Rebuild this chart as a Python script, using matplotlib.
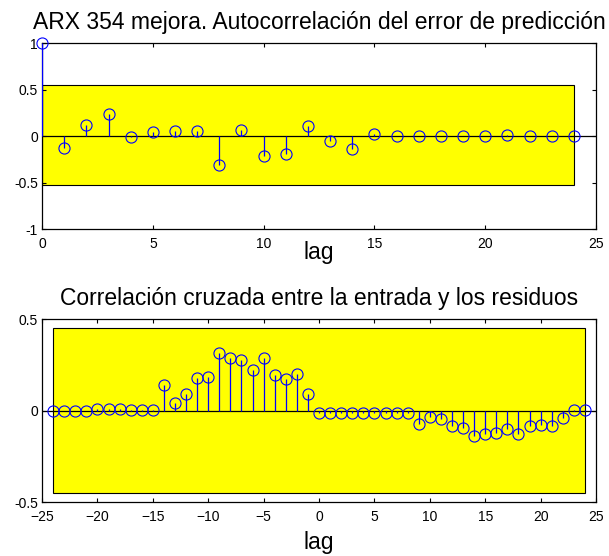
import numpy as np
import matplotlib
matplotlib.use("Agg")
import matplotlib.pyplot as plt
from matplotlib.patches import Rectangle

plt.rcParams['font.family'] = ['Liberation Sans', 'DejaVu Sans']

# Autocorrelation of the prediction error (lags 0..24)
auto_lags = list(range(0, 25))
auto_vals = [1.0, -0.133, 0.118, 0.237, -0.007, 0.039, 0.054, 0.057, -0.312,
             0.068, -0.211, -0.197, 0.104, -0.05, -0.14, 0.018, 0.0, 0.0,
             0.0, 0.0, 0.0, 0.01, 0.0, 0.0, 0.0]
auto_conf = (-0.53, 0.545)

# Cross correlation between input and residuals (lags -24..24)
cross_lags = list(range(-24, 25))
cross_vals = [0.0, 0.0, 0.0, 0.0, 0.007, 0.007, 0.007, 0.005, 0.005, 0.005,
              0.137, 0.044, 0.091, 0.177, 0.184, 0.312, 0.285, 0.277, 0.219,
              0.285, 0.192, 0.172, 0.199, 0.093,
              -0.015, -0.015, -0.013, -0.013, -0.015, -0.015, -0.013, -0.013,
              -0.015, -0.075, -0.035, -0.046, -0.086, -0.093, -0.139, -0.126,
              -0.124, -0.1, -0.126, -0.086, -0.08, -0.086, -0.04, 0.002, 0.002]
cross_conf = (-0.451, 0.454)

title_top = "ARX 354 mejora. Autocorrelación del error de predicción"
title_bot = "Correlación cruzada entre la entrada y los residuos"

fig = plt.figure(figsize=(6.09, 5.56), dpi=100)
ax1 = fig.add_axes([0.069, 0.588, 0.9097, 0.3345])
ax2 = fig.add_axes([0.069, 0.0971, 0.9097, 0.329])


def draw_panel(ax, lags, vals, conf, xlim, ylim, xticks, yticks, ytlabels, title, labely):
    ax.add_patch(Rectangle((lags[0], conf[0]), lags[-1] - lags[0], conf[1] - conf[0],
                           facecolor='#ffff00', edgecolor='black', linewidth=0.8, zorder=1))
    ax.axhline(0, color='black', linewidth=0.9, zorder=2)
    ax.vlines(lags, 0, vals, colors='#0000ff', linewidth=0.9, zorder=3)
    ax.plot(lags, vals, linestyle='none', marker='o', markersize=8, markerfacecolor='none',
            markeredgecolor='#0000ff', markeredgewidth=0.8, zorder=4, clip_on=False)
    ax.set_xlim(*xlim)
    ax.set_ylim(*ylim)
    ax.set_xticks(xticks)
    ax.set_yticks(yticks)
    ax.set_yticklabels(ytlabels)
    ax.tick_params(direction='in', top=True, right=True, length=3, width=0.8,
                   labelsize=10)
    ax.tick_params(axis='x', pad=6)
    ax.tick_params(axis='y', pad=3)
    for s in ax.spines.values():
        s.set_linewidth(0.9)
    ax.set_title(title, fontsize=16.5, pad=10.5)
    ax.set_xlabel('lag', fontsize=16.5)
    ax.xaxis.set_label_coords(0.5, labely)


draw_panel(ax1, auto_lags, auto_vals, auto_conf, (0, 25), (-1, 1),
           [0, 5, 10, 15, 20, 25], [-1, -0.5, 0, 0.5, 1], ['-1', '-0.5', '0', '0.5', '1'],
           title_top, -0.065)
draw_panel(ax2, cross_lags, cross_vals, cross_conf, (-25, 25), (-0.5, 0.5),
           list(range(-25, 26, 5)), [-0.5, 0, 0.5], ['-0.5', '0', '0.5'],
           title_bot, -0.16)

fig.savefig('out.png', dpi=100)
